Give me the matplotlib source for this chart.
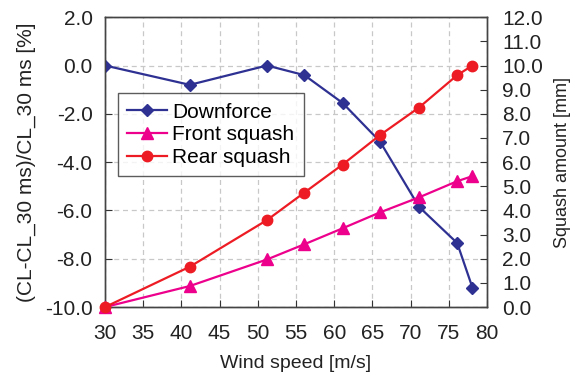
import matplotlib
matplotlib.use("Agg")
import matplotlib.pyplot as plt
from matplotlib.ticker import FuncFormatter, MultipleLocator

plt.rcParams["font.family"] = ["Liberation Sans", "DejaVu Sans"]

speed = [30, 41.1, 51.2, 56.1, 61.1, 66.0, 71.1, 76.1, 78.1]
downforce = [0.0, -0.8, 0.0, -0.4, -1.55, -3.15, -5.85, -7.35, -9.2]
front_squash = [0.0, 0.87, 1.97, 2.6, 3.26, 3.92, 4.54, 5.21, 5.42]
rear_squash = [0.0, 1.67, 3.6, 4.74, 5.9, 7.12, 8.26, 9.6, 10.0]

NAVY = "#2e3192"
MAGENTA = "#ec008c"
RED = "#ed1c24"
TXT = "#222222"

fig = plt.figure(figsize=(5.77, 3.74), dpi=100)
ax = fig.add_axes([0.182, 0.179, 0.662, 0.775])
ax2 = ax.twinx()

fmt = FuncFormatter(lambda v, _: f"{v:.1f}")

ax.set_xlim(30, 80)
ax.set_ylim(-10, 2)
ax2.set_ylim(0, 12)
ax.xaxis.set_major_locator(MultipleLocator(5))
ax.yaxis.set_major_locator(MultipleLocator(2))
ax2.yaxis.set_major_locator(MultipleLocator(1))
ax.yaxis.set_major_formatter(fmt)
ax2.yaxis.set_major_formatter(fmt)

ax.grid(True, color="#c8c8c8", linestyle=(0, (4, 3)), linewidth=0.9)
ax.set_axisbelow(True)

ax.tick_params(axis="x", direction="in", labelsize=15, length=5, pad=12,
               colors="#333333", labelcolor=TXT)
ax.tick_params(axis="y", direction="in", labelsize=15, length=5, pad=9,
               colors="#333333", labelcolor=TXT)
ax2.tick_params(axis="y", direction="in", labelsize=15, length=5, pad=11,
                colors="#333333", labelcolor=TXT)
for a in (ax, ax2):
    for s in a.spines.values():
        s.set_color("#444444")
        s.set_linewidth(1.0)

l1, = ax.plot(speed, downforce, color=NAVY, marker="D", markersize=6.5, linewidth=1.6,
              label="Downforce", zorder=3)
l2, = ax2.plot(speed, front_squash, color=MAGENTA, marker="^", markersize=8, linewidth=1.6,
               label="Front squash", clip_on=False, zorder=3)
l3, = ax2.plot(speed, rear_squash, color=RED, marker="o", markersize=7.5, linewidth=1.6,
               label="Rear squash", clip_on=False, zorder=4)

ax.set_xlabel("Wind speed [m/s]", fontsize=14, color=TXT, labelpad=9)
ax.set_ylabel("(CL-CL_30 ms)/CL_30 ms [%]", fontsize=15, color=TXT, labelpad=6)
ax2.set_ylabel("Squash amount [mm]", fontsize=13, color=TXT, labelpad=8)

leg = ax2.legend(handles=[l1, l2, l3], loc="upper left", bbox_to_anchor=(0.034, 0.738),
                 fontsize=15, frameon=True, fancybox=False, edgecolor="#333333",
                 handlelength=1.9, handletextpad=0.25, borderpad=0.45, labelspacing=0.18,
                 borderaxespad=0)
leg.get_frame().set_linewidth(1.0)

fig.savefig("out.png", dpi=100)
